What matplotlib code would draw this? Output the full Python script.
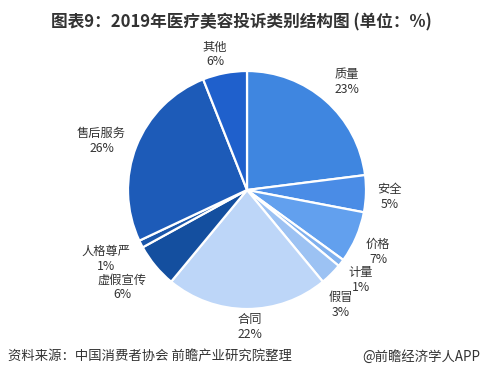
import numpy as np
import matplotlib

matplotlib.use("Agg")
import matplotlib.pyplot as plt

plt.rcParams["font.family"] = ["Noto Sans CJK SC", "DejaVu Sans"]

# complaint categories, clockwise from 12 o'clock
categories = ["质量", "安全", "价格", "计量", "假冒", "合同", "虚假宣传", "人格尊严", "售后服务", "其他"]
shares = [23, 5, 7, 1, 3, 22, 6, 1, 26, 6]
colors = ["#3f86e0", "#4a8ce6", "#62a0ee", "#7fb0ee", "#9cc2f3", "#bdd6f8",
          "#144f9f", "#1a56aa", "#1d5bb8", "#1f60cc"]

# label placement (radius factor and angle shift, degrees)
label_r = [1.24, 1.20, 1.22, 1.22, 1.25, 1.15, 1.33, 1.32, 1.29, 1.17]
label_dang = [-1.4, -1.0, -1.9, -0.5, -5.7, 1.3, -1.6, -1.0, 3.0, 2.4]

W, H = 483, 382
cx, cy, R = 247, 190, 119

fig = plt.figure(figsize=(W / 100, H / 100), dpi=100)
ax = fig.add_axes([0, 0, 1, 1])

wedges, _ = ax.pie(
    shares,
    colors=colors,
    startangle=90,
    counterclock=False,
    radius=1,
    center=(0, 0),
    frame=True,
    wedgeprops=dict(edgecolor="white", linewidth=1.6),
)
ax.set_xlim(-cx / R, (W - cx) / R)
ax.set_ylim(-(H - cy) / R, cy / R)
ax.axis("off")

for w, name, v, r, da in zip(wedges, categories, shares, label_r, label_dang):
    ang = np.deg2rad((w.theta1 + w.theta2) / 2 + da)
    ax.text(r * np.cos(ang), r * np.sin(ang), "%s\n%d%%" % (name, v),
            ha="center", va="center", fontsize=8.8, color="#333333",
            linespacing=1.2)

fig.text(0.5, 1 - 22 / H, "图表9：2019年医疗美容投诉类别结构图 (单位：%)",
         ha="center", va="center", fontsize=12, fontweight="bold", color="#333333")
fig.text(8 / W, 1 - 357 / H, "资料来源：中国消费者协会 前瞻产业研究院整理",
         ha="left", va="center", fontsize=9.6, color="#333333")
fig.text(480 / W, 1 - 357 / H, "@前瞻经济学人APP",
         ha="right", va="center", fontsize=9.6, color="#333333")

fig.savefig("out.png", dpi=100)
